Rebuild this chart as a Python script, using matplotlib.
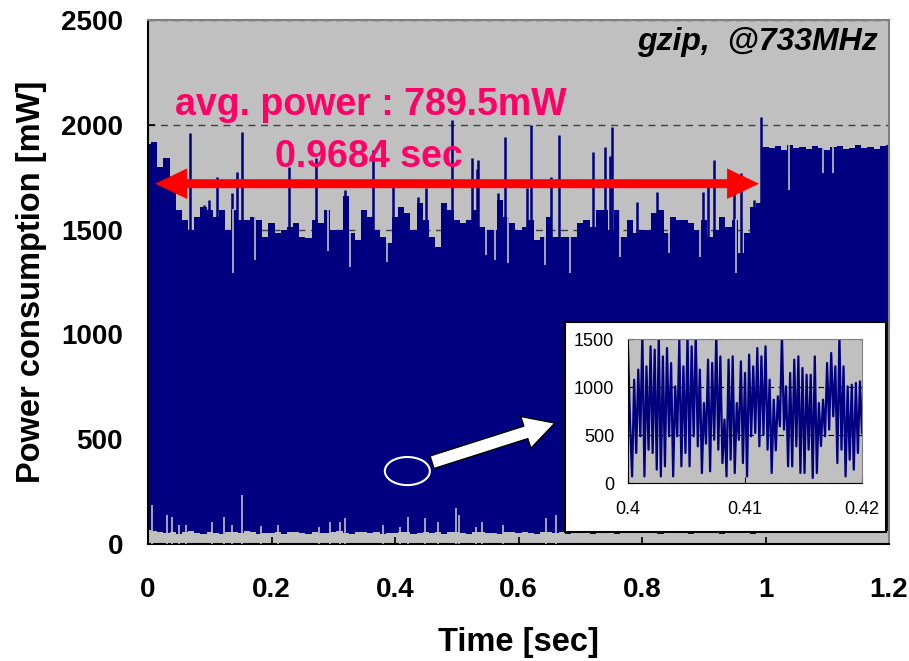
import numpy as np
import matplotlib.pyplot as plt
from matplotlib.patches import Ellipse, Rectangle, FancyArrowPatch

plt.rcParams['font.family'] = ['Liberation Sans', 'DejaVu Sans']

NAVY = '#000080'
GRAY = '#C0C0C0'
PINK = '#FF0066'

# -----------------------------
# Data
# -----------------------------
# top / bottom of the dense trace, one value every 10 ms (0 .. 1.2 s)
band_step = 0.01
band_top = [1910, 1920, 1800, 1840, 1690, 1594, 1546, 1500, 1560, 1610,
            1594, 1560, 1594, 1500, 1594, 1546, 1546, 1560, 1546, 1466,
            1530, 1482, 1498, 1514, 1530, 1466, 1458, 1546, 1530, 1594,
            1498, 1498, 1658, 1482, 1450, 1594, 1560, 1498, 1466, 1434,
            1560, 1610, 1578, 1498, 1626, 1546, 1466, 1418, 1626, 1594,
            1546, 1530, 1546, 1594, 1514, 1498, 1498, 1642, 1560, 1530,
            1498, 1514, 1546, 1450, 1466, 1560, 1466, 1466, 1466, 1466,
            1530, 1546, 1514, 1594, 1594, 1498, 1594, 1466, 1546, 1482,
            1498, 1498, 1578, 1594, 1482, 1560, 1546, 1546, 1530, 1498,
            1546, 1466, 1498, 1560, 1514, 1546, 1387, 1482, 1610, 1626,
            1896, 1890, 1900, 1880, 1905, 1890, 1895, 1885, 1900, 1890,
            1880, 1895, 1900, 1885, 1890, 1905, 1890, 1895, 1885, 1900,
            1905]
band_bottom = [68, 60, 55, 52, 58, 50, 55, 60, 52, 50,
               56, 54, 50, 58, 55, 52, 60, 55, 50, 54,
               52, 56, 50, 55, 58, 52, 50, 56, 54, 52,
               55, 60, 52, 50, 55, 58, 52, 56, 50, 54,
               52, 55, 58, 50, 54, 56, 52, 55, 50, 58,
               56, 52, 50, 55, 58, 52, 54, 50, 56, 55,
               52, 58, 54, 50, 55, 56, 52, 55, 50, 54,
               52, 56, 50, 55, 58, 52, 50, 56, 54, 52,
               55, 60, 52, 50, 55, 58, 52, 56, 50, 54,
               52, 55, 58, 50, 54, 56, 52, 55, 50, 58,
               60, 62, 58, 60, 56, 62, 58, 60, 64, 58,
               60, 56, 62, 58, 60, 62, 58, 60, 56, 62,
               60]

# tall single spikes above the band
spike_t = [0.068, 0.090, 0.098, 0.112, 0.136, 0.144, 0.153, 0.228, 0.272,
           0.319, 0.365, 0.397, 0.438, 0.450, 0.493, 0.524, 0.532, 0.535,
           0.567, 0.578, 0.613, 0.621, 0.653, 0.665, 0.720, 0.740, 0.748,
           0.751, 0.792, 0.824, 0.899, 0.907, 0.917, 0.949, 0.960, 0.976,
           0.982, 0.993]
spike_v = [1960, 1617, 1640, 1750, 1675, 1774, 1965, 1798, 1840,
           1690, 1880, 1703, 1656, 1698, 2023, 1840, 1790, 1832,
           1675, 1942, 1700, 2000, 1750, 1950, 1870, 1894, 1850,
           1990, 1632, 1680, 1680, 1703, 1832, 1680, 1770, 1610,
           1640, 2037]

# thin dips cut into the top of the band
notch_t = [0.138, 0.173, 0.292, 0.327, 0.387, 0.548, 0.562, 0.583, 0.643,
           0.683, 0.764, 0.843, 0.894, 0.952, 1.038, 1.093, 1.110]
notch_v = [1293, 1355, 1400, 1322, 1345, 1380, 1355, 1340, 1330,
           1293, 1370, 1387, 1370, 1293, 1690, 1770, 1770]

# light spikes rising from the floor of the trace
floor_t = [0.006, 0.031, 0.039, 0.050, 0.062, 0.104, 0.123, 0.136, 0.152,
           0.183, 0.211, 0.277, 0.295, 0.311, 0.319, 0.381, 0.408, 0.421,
           0.449, 0.470, 0.498, 0.504, 0.531, 0.541, 0.575, 0.644, 0.661]
floor_v = [186, 138, 130, 90, 90, 106, 130, 90, 234,
           85, 90, 80, 106, 106, 122, 90, 80, 130,
           122, 106, 170, 138, 80, 106, 90, 124, 139]

# zoomed trace 0.40 .. 0.42 s
zoom_start, zoom_end = 0.40, 0.42
zoom_power = [1406, 625, 69, 1076, 313, 1181, 486, 1550, 69, 1215,
              347, 1424, 313, 1389, 139, 1550, 69, 1319, 174, 1406,
              486, 1250, 69, 1007, 486, 1493, 174, 1215, 313, 1550,
              174, 1424, 486, 1550, 382, 1181, 104, 833, 410, 1285,
              122, 1250, 451, 1550, 347, 1319, 208, 660, 69, 1285,
              243, 1319, 104, 833, 450, 1267, 208, 1146, 69, 1337,
              486, 1215, 521, 1406, 382, 1319, 503, 1424, 347, 1076,
              104, 868, 340, 903, 590, 1550, 556, 1007, 174, 1146,
              174, 1285, 382, 1319, 104, 1198, 104, 1128, 347, 1128,
              52, 1319, 104, 833, 385, 868, 486, 1250, 556, 1354,
              694, 1215, 208, 1550, 347, 1215, 69, 1007, 243, 1024,
              139, 1042, 313, 1059, 520]

avg_power = 789.5
span_sec = 0.9684
span_from, span_to, span_level = 0.0115, 0.9895, 1719

# -----------------------------
# Main trace
# -----------------------------
fig = plt.figure(figsize=(9.09, 6.61), dpi=100)
ax = fig.add_axes([148 / 909, 1 - 544 / 661, 741 / 909, 524 / 661])
ax.set_facecolor(GRAY)

t = np.arange(len(band_top)) * band_step
ax.fill_between(t, band_bottom, band_top, step='mid', color=NAVY, lw=0, zorder=2)
ax.vlines(spike_t, 300, spike_v, color=NAVY, lw=1.8, zorder=2)
top_at = np.array(band_top)[np.rint(np.array(notch_t) / band_step).astype(int)] + 5
ax.vlines(notch_t, notch_v, top_at, color=GRAY, lw=1.2, zorder=3)
ax.vlines(floor_t, 0, floor_v, color=GRAY, lw=1.2, zorder=3)

ax.set_xlim(0, 1.2)
ax.set_ylim(0, 2500)
ax.set_xticks([0, 0.2, 0.4, 0.6, 0.8, 1.0, 1.2])
ax.set_xticklabels(['0', '0.2', '0.4', '0.6', '0.8', '1', '1.2'])
ax.set_yticks([0, 500, 1000, 1500, 2000, 2500])
ax.set_axisbelow(True)
ax.yaxis.grid(True, ls=(0, (5, 4)), color='#404040', lw=1)
ax.tick_params(direction='in', length=5, width=1.2, labelsize=20)
ax.tick_params(axis='x', pad=24)
ax.tick_params(axis='y', pad=18)
for lbl in ax.get_xticklabels() + ax.get_yticklabels():
    lbl.set_fontweight('bold')
for side in ['left', 'bottom']:
    ax.spines[side].set_color('black')
    ax.spines[side].set_linewidth(1.5)
for side in ['top', 'right']:
    ax.spines[side].set_color('#808080')
    ax.spines[side].set_linewidth(1.5)

ax.set_xlabel('Time [sec]', fontsize=23.5, fontweight='bold', labelpad=17)
ax.set_ylabel('Power consumption [mW]', fontsize=23.5, fontweight='bold', labelpad=10)

ax.text(0.0437, 2095, f'avg. power : {avg_power}mW', color=PINK, fontsize=27,
        fontweight='bold', ha='left', va='center', zorder=6)
ax.text(0.358, 1845, f'{span_sec} sec', color=PINK, fontsize=27,
        fontweight='bold', ha='center', va='center', zorder=6)
ax.text(1.182, 2395, 'gzip,  @733MHz', fontsize=23, fontweight='bold',
        fontstyle='italic', ha='right', va='center', zorder=6)

# double headed red arrow (two arrows from the middle)
mid = (span_from + span_to) / 2
for end in (span_from, span_to):
    ax.add_patch(FancyArrowPatch((mid, span_level), (end, span_level),
                                 arrowstyle='simple,head_length=2.3,head_width=2.2,tail_width=0.65',
                                 mutation_scale=10, color='red', lw=0,
                                 shrinkA=0, shrinkB=0, zorder=5))

# marker of the zoomed region
ax.add_patch(Ellipse((0.420, 348), width=0.0729, height=134, fill=False,
                     ec='white', lw=1.5, zorder=5))
ax.add_patch(FancyArrowPatch((0.46, 390), (0.659, 577),
                             arrowstyle='simple,head_length=2.2,head_width=2.4,tail_width=0.95',
                             mutation_scale=10, fc='white', ec='black', lw=1,
                             shrinkA=0, shrinkB=0, zorder=5))

# -----------------------------
# Inset
# -----------------------------
box = Rectangle((565 / 909, 1 - 532 / 661), 321 / 909, 210 / 661,
                transform=fig.transFigure, fc='white', ec='black', lw=1.5, zorder=2)
fig.add_artist(box)

axin = fig.add_axes([628 / 909, 1 - 483 / 661, 234 / 909, 144 / 661])
axin.set_zorder(3)
axin.set_facecolor(GRAY)
axin.plot(np.linspace(zoom_start, zoom_end, len(zoom_power)), zoom_power,
          color=NAVY, lw=1.6)
axin.set_xlim(zoom_start, zoom_end)
axin.set_ylim(0, 1500)
axin.set_xticks([0.40, 0.41, 0.42])
axin.set_xticklabels(['0.4', '0.41', '0.42'])
axin.set_yticks([0, 500, 1000, 1500])
axin.set_axisbelow(True)
axin.yaxis.grid(True, ls=(0, (5, 4)), color='black', lw=0.8)
axin.tick_params(direction='in', length=4, labelsize=13)
axin.tick_params(axis='x', pad=13)
axin.tick_params(axis='y', pad=10)
for side in ['left', 'bottom']:
    axin.spines[side].set_color('black')
for side in ['top', 'right']:
    axin.spines[side].set_color('#808080')

fig.savefig('out.png', dpi=100)
